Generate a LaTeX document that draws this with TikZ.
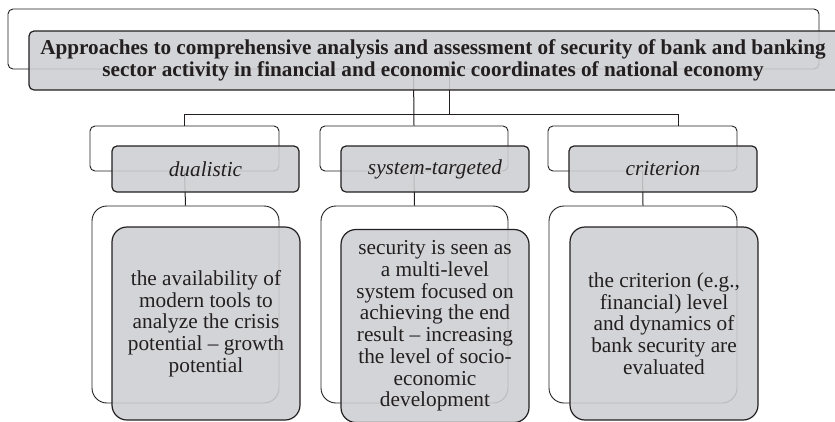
\documentclass[tikz,border=0pt]{standalone}
\usepackage{fontspec}
\setmainfont{Liberation Serif}
\usetikzlibrary{backgrounds}

\definecolor{boxgray}{RGB}{205,206,209}
\definecolor{inkgray}{RGB}{35,31,32}

\tikzset{
	backbox/.style={draw=inkgray, line width=0.9pt, rounded corners=5pt, inner sep=0pt},
	frontbox/.style={draw=inkgray, line width=1.2pt, rounded corners=5pt, fill=boxgray, fill opacity=0.88, text opacity=1, text=inkgray, inner sep=0pt, align=center},
	link/.style={draw=inkgray, line width=1pt},
	headtext/.style={font=\fontsize{21.3}{22}\selectfont\itshape},
	desctext/.style={font=\fontsize{21.3}{21.7}\selectfont, rounded corners=15pt},
}

\begin{document}
\begin{tikzpicture}[x=1pt,y=-1pt]
	\useasboundingbox (0,0) rectangle (835,421);
	\clip (0,0) rectangle (835,421);

	% top level
	\node (topbg) at (413.5,39) [backbox, minimum width=811, minimum height=60] {};
	\node (top) at (449,60.5) [frontbox, minimum width=840, minimum height=59] {};
	\node (title) at (433,60.5) [align=center, text=inkgray, font=\fontsize{21.2}{22}\selectfont\bfseries] {Approaches to comprehensive analysis and assessment of security of bank and banking\\sector activity in financial and economic coordinates of national economy};

	% approaches
	\node (dualbg) at (184.5,148.5) [backbox, minimum width=189, minimum height=45] {};
	\node (dual) at (205.5,169) [frontbox, headtext, minimum width=187, minimum height=46] {dualistic};
	\node (sysbg) at (414,148.5) [backbox, minimum width=188, minimum height=45] {};
	\node (sys) at (435,169) [frontbox, headtext, minimum width=188, minimum height=46] {system-targeted};
	\node (critbg) at (642.5,148.5) [backbox, minimum width=189, minimum height=45] {};
	\node (crit) at (663,169) [frontbox, headtext, minimum width=188, minimum height=46] {criterion};

	% descriptions
	\node (dualdescbg) at (185.5,304.5) [backbox, rounded corners=15pt, minimum width=187, minimum height=197] {};
	\node (dualdesc) at (206,323.5) [frontbox, desctext, minimum width=188, minimum height=193] {the availability of\\modern tools to\\analyze the crisis\\potential -- growth\\potential};
	\node (sysdescbg) at (414.5,304.5) [backbox, rounded corners=15pt, minimum width=187, minimum height=197] {};
	\node (sysdesc) at (435,326) [frontbox, desctext, minimum width=188, minimum height=193] {security is seen as\\a multi-level\\system focused on\\achieving the end\\result -- increasing\\the level of socio-\\economic\\development};
	\node (critdescbg) at (643,304.5) [backbox, rounded corners=15pt, minimum width=188, minimum height=197] {};
	\node (critdesc) at (664,323.5) [frontbox, desctext, minimum width=188, minimum height=193] {the criterion (e.g.,\\financial) level\\and dynamics of\\bank security are\\evaluated};

	\coordinate (fork) at (449,114);

	\begin{pgfonlayer}{background}
		\path [link] (topbg.south) -- (sysbg.north);
		\path [link] (top.center) -- (fork);
		\path [link] (fork) -| (dualbg.north);
		\path [link] (fork) -| ([xshift=35.5pt]critbg.north);

		\path [link] (dualbg.south) -- (dualdescbg.north);
		\path [link] (sysbg.south) -- (sysdescbg.north);
		\path [link] (critbg.south) -- (critdescbg.north);
	\end{pgfonlayer}
\end{tikzpicture}
\end{document}
